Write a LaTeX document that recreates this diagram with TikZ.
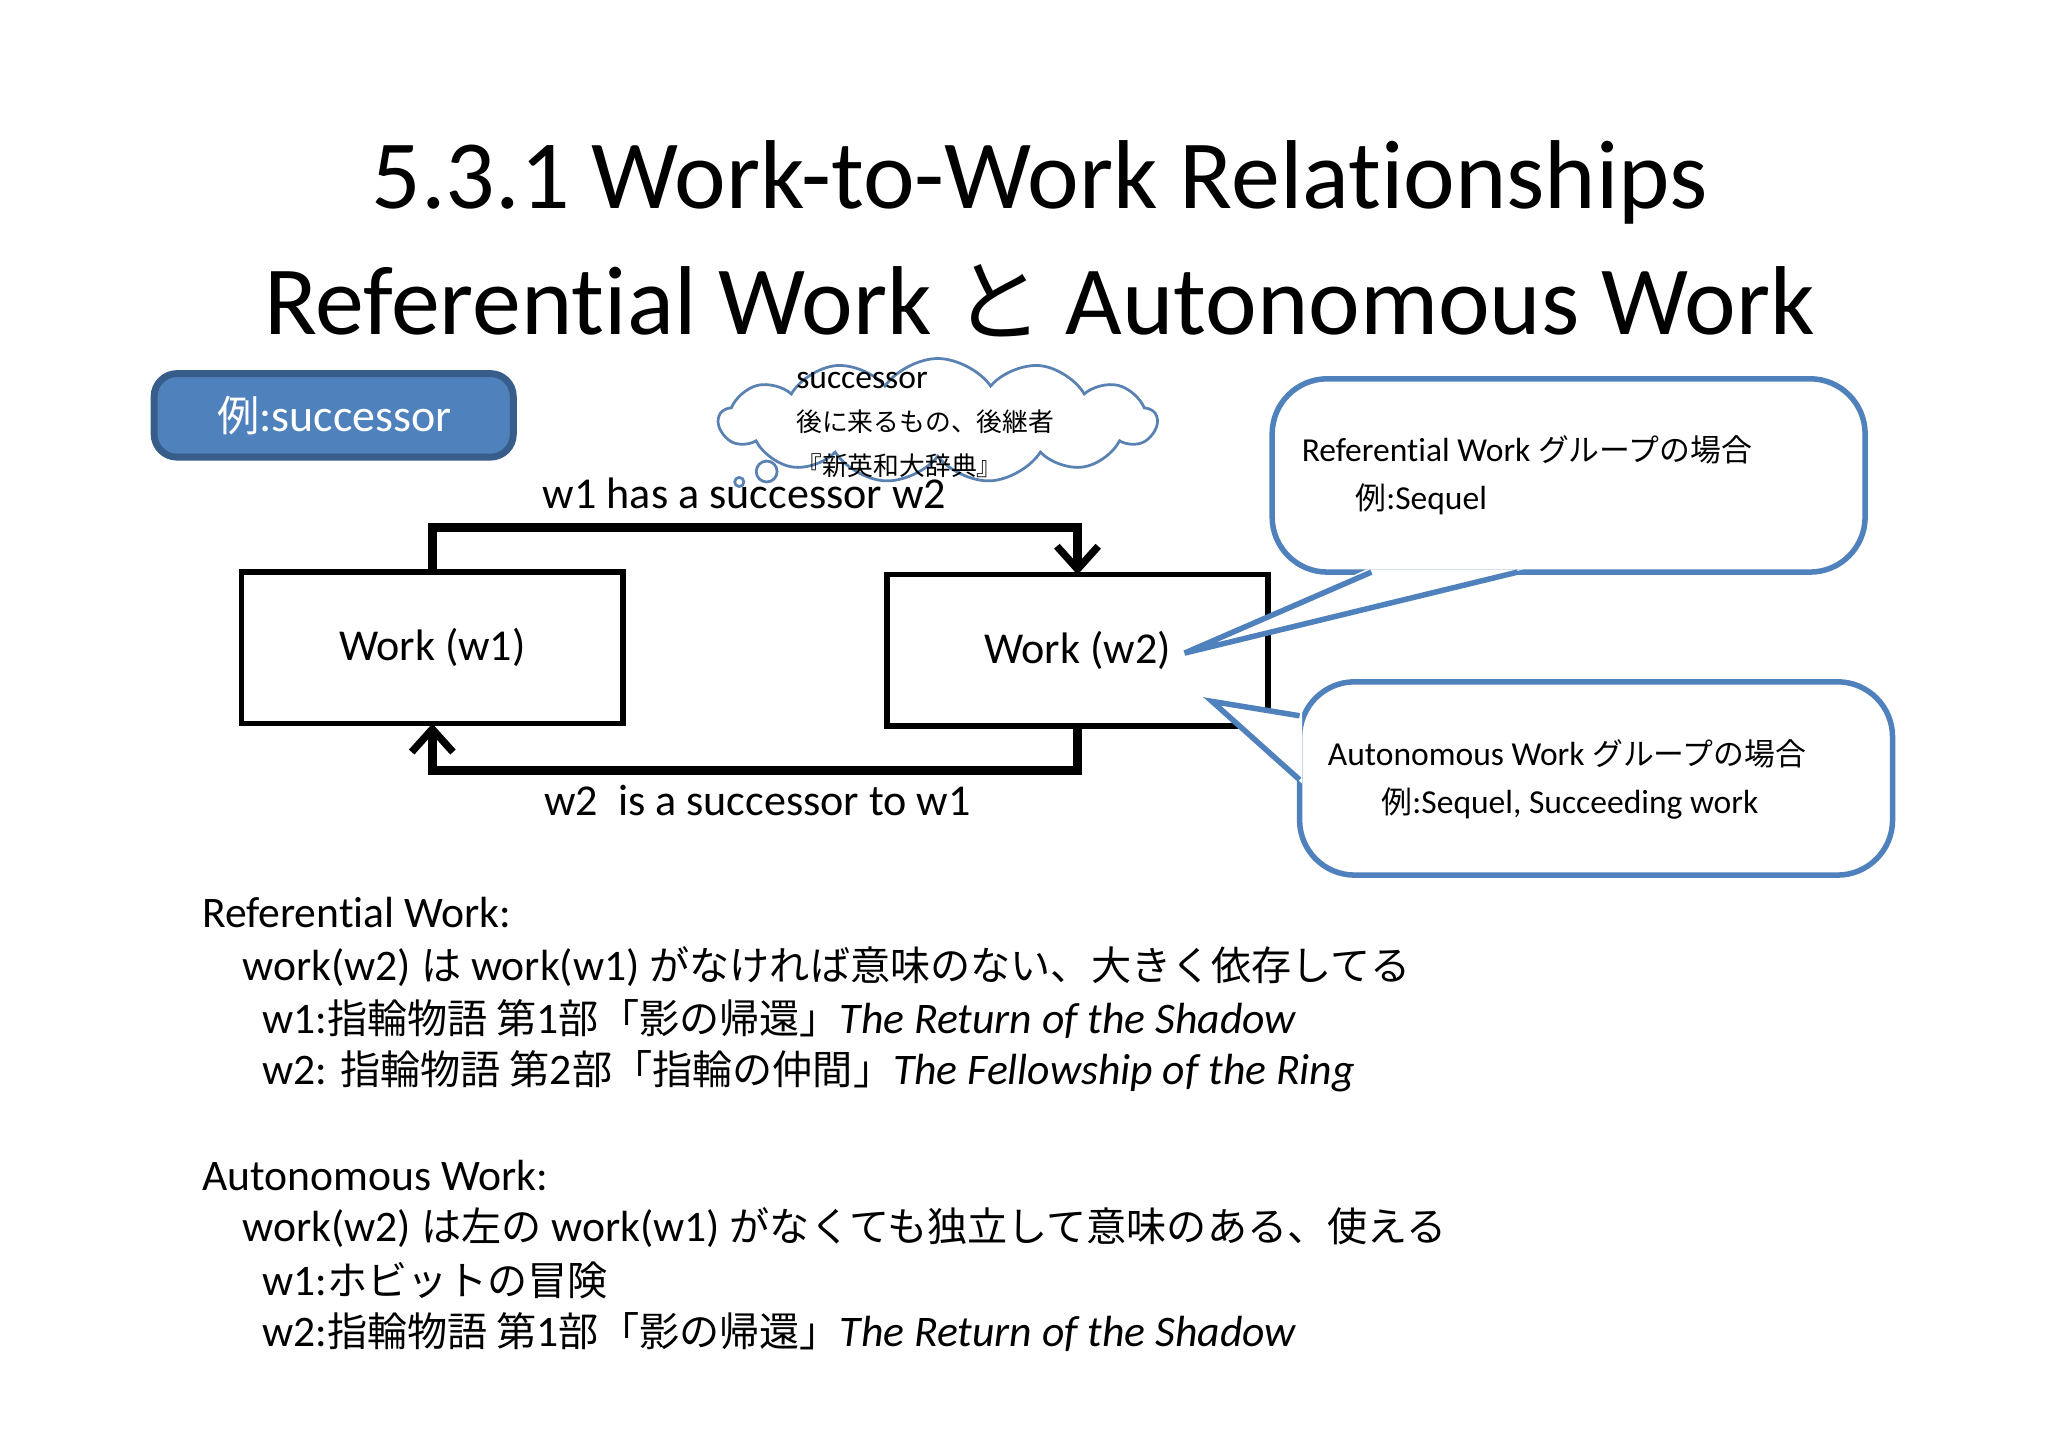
\documentclass[tikz,border=0pt]{standalone}
\usepackage{fontspec}
\setmainfont[Ligatures=NoCommon]{Carlito}
\newfontfamily\jp[Scale=0.92]{Noto Sans CJK JP}
\usetikzlibrary{shapes.symbols,arrows.meta}
\definecolor{cblue}{HTML}{4F81BD}
\definecolor{dblue}{HTML}{385D8A}
\tikzset{
  wbox/.style={draw=black,line width=1.2pt},
  conn/.style={line width=2pt,-{Straight Barb[length=5pt,width=9pt,line width=1.6pt]}},
  lbl/.style={font=\fontsize{9.6}{12}\selectfont},
  body/.style={anchor=west,font=\fontsize{9.5}{12}\selectfont,inner sep=0pt},
  callout/.style={draw=cblue,line width=1.2pt,fill=white,rounded corners=12pt},
}
\begin{document}
\begin{tikzpicture}[x=0.01cm,y=-0.01cm]
\useasboundingbox (0,0) rectangle (1568,1108);
% title
\node[font=\fontsize{21.3}{24}\selectfont] (t1) at (796,140) {5.3.1 Work-to-Work Relationships};
\node[font=\fontsize{21.3}{24}\selectfont] (t2) at (796,230) {Referential Work {\jp と} Autonomous Work};
% example box
\draw[fill=cblue,draw=dblue,line width=1.5pt,rounded corners=5pt] (118,286) rectangle (393,350);
\node[text=white,font=\fontsize{10}{12}\selectfont] (ex) at (256,318) {{\jp 例}:successor};
% cloud
\node[cloud,cloud puffs=13,cloud puff arc=110,aspect=3.6,draw=cblue!80!gray,line width=0.6pt,minimum width=3.35cm,minimum height=0.95cm,inner sep=0pt] (cl) at (718,322) {};
\draw[draw=cblue!80!gray,line width=0.6pt] (587,361) circle (8);
\draw[draw=cblue!80!gray,line width=0.6pt] (566,369) circle (3.5);
\node[anchor=north west,align=left,font=\fontsize{7.3}{9.5}\selectfont,inner sep=0pt] (ct) at (609,284) {successor\\{\fontsize{6.1}{9.5}\selectfont\jp 後に来るもの、後継者}\\{\fontsize{6.1}{9.5}\selectfont\jp 『新英和大辞典』}};
% work boxes
\draw[wbox] (185,438) rectangle (477,554);
\node[lbl] (w1) at (331,496) {Work (w1)};
\draw[wbox] (679,440) rectangle (971,556);
\node[lbl] (w2) at (825,498) {Work (w2)};
\coordinate (w1t) at (331,438);
\coordinate (w1b) at (331,554);
\coordinate (w2t) at (825,440);
\coordinate (w2b) at (825,556);
\draw[conn] (w1t) |- (578,404) -| (w2t);
\draw[conn] (w2b) |- (578,590) -| (w1b);
\node[lbl] (l1) at (570,378) {w1 has a successor w2};
\node[lbl] (l2) at (580,613) {w2\ \ is a successor to w1};
% callout 1
\draw[callout] (974,290) rectangle (1428,438);
\fill[white] (1046,436) -- (907,500) -- (1166,436) -- cycle;
\draw[cblue,line width=1.2pt,line join=miter] (1050,438) -- (907,500) -- (1162,438);
\node[anchor=west,align=left,font=\fontsize{7.3}{10.5}\selectfont,inner sep=0pt] (c1) at (996,364) {Referential Work {\jp グループの場合}\\\hspace{1.6em}{\jp 例}:Sequel};
% callout 2
\draw[callout] (995,522) rectangle (1449,670);
\fill[white] (997,546) -- (928,537) -- (997,600) -- cycle;
\draw[cblue,line width=1.2pt,line join=miter] (995,548) -- (928,537) -- (995,597);
\node[anchor=west,align=left,font=\fontsize{7.3}{10.5}\selectfont,inner sep=0pt] (c2) at (1016,597) {Autonomous Work {\jp グループの場合}\\\hspace{1.6em}{\jp 例}:Sequel, Succeeding work};
% body text
\node[body] (b1) at (154,699) {Referential Work:};
\node[body] (b2) at (185,740) {work(w2) {\jp は} work(w1) {\jp がなければ意味のない、大きく依存してる}};
\node[body] (b3) at (200,780) {w1:{\jp 指輪物語 第}1{\jp 部「影の帰還」}\textit{The Return of the Shadow}};
\node[body] (b4) at (200,820) {w2: {\jp 指輪物語 第}2{\jp 部「指輪の仲間」}\textit{The Fellowship of the Ring}};
\node[body] (b5) at (154,900) {Autonomous Work:};
\node[body] (b6) at (185,940) {work(w2) {\jp は左の} work(w1) {\jp がなくても独立して意味のある、使える}};
\node[body] (b7) at (200,980) {w1:{\jp ホビットの冒険}};
\node[body] (b8) at (200,1020) {w2:{\jp 指輪物語 第}1{\jp 部「影の帰還」}\textit{The Return of the Shadow}};
\end{tikzpicture}
\end{document}
